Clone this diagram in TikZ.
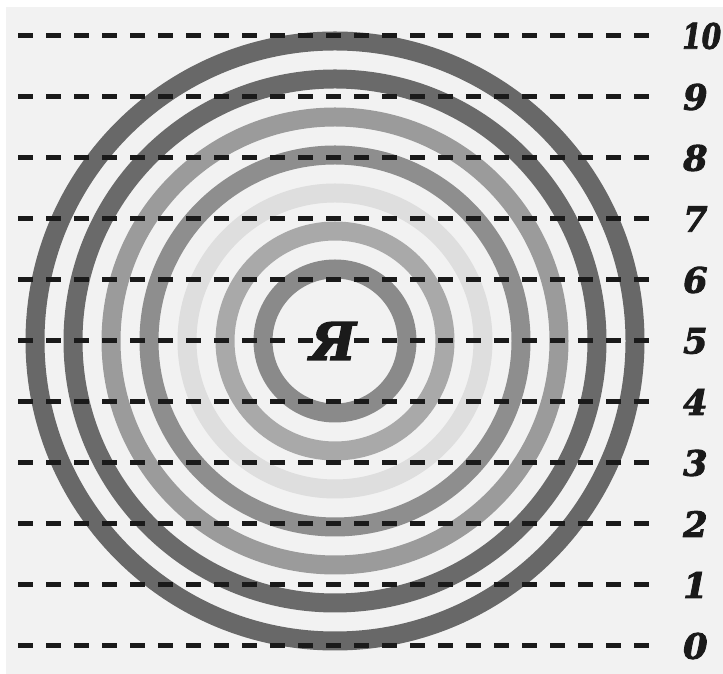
\documentclass[tikz,border=0pt]{standalone}
\usepackage{fontspec}
\newfontfamily\labfont{DejaVu Serif}[BoldItalicFeatures={FakeBold=2.5}]
\definecolor{bg}{HTML}{F2F2F2}
\definecolor{dashc}{HTML}{1A1A1A}
\definecolor{r0}{HTML}{8A8A8A}
\definecolor{r1}{HTML}{A9A9A9}
\definecolor{r2}{HTML}{DEDEDE}
\definecolor{r3}{HTML}{8E8E8E}
\definecolor{r4}{HTML}{9B9B9B}
\definecolor{r5}{HTML}{6A6A6A}
\definecolor{r6}{HTML}{686868}
\begin{document}
\begin{tikzpicture}[x=1pt,y=1pt,
  ring/.style={line width=19pt},
  dline/.style={line width=5pt, draw=dashc, dash pattern=on 15pt off 13pt},
  lab/.style={anchor=west, inner sep=0pt, text=dashc,
    font=\labfont\bfseries\itshape\fontsize{35}{35}\selectfont}]
\useasboundingbox (0,0) rectangle (723,674);
\fill[white] (0,0) rectangle (723,674);
\fill[bg] (6,0) rectangle (723,667);
\coordinate (c) at (335,333);
\foreach \r/\col in {300/r6,262/r5,224/r4,186/r3,148/r2,110/r1,72/r0}
  \draw[ring,\col] (c) circle (\r);
\foreach \k in {0,...,9} {
  \coordinate (s\k) at (18,28+61*\k);
  \coordinate (e\k) at (649,28+61*\k);
  \draw[dline] (s\k) -- (e\k);
  \node[lab] (l\k) at (683,28+61*\k) {\k};
}
\coordinate (s10) at (18,638);
\coordinate (e10) at (649,638);
\draw[dline] (s10) -- (e10);
\node[lab] (l10) at (682,638) {\scalebox{0.8}[1]{10}};
\node[inner sep=0pt, text=dashc, font=\labfont\bfseries\itshape\fontsize{52}{52}\selectfont] (ya) at (333,333) {Я};
\end{tikzpicture}
\end{document}
